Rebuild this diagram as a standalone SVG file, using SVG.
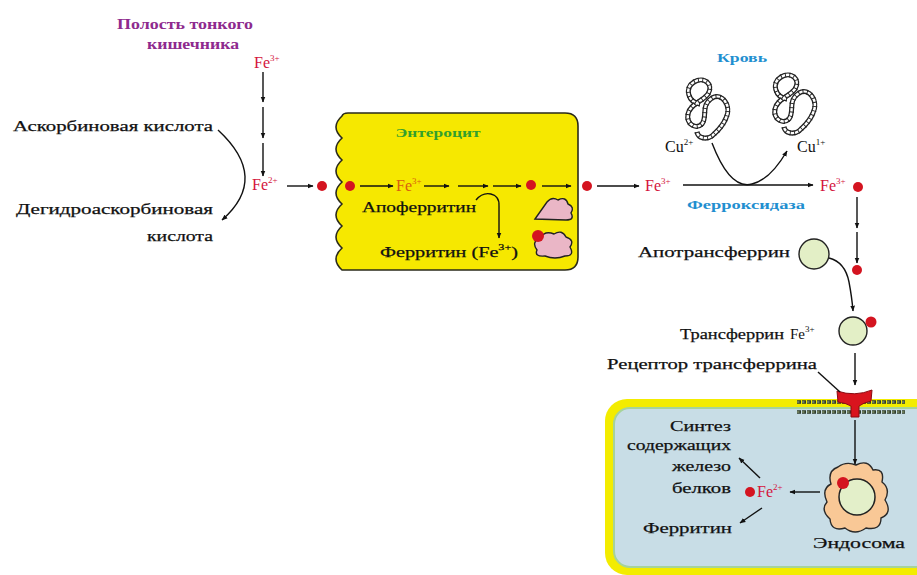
<svg xmlns="http://www.w3.org/2000/svg" width="917" height="575" viewBox="0 0 917 575">
  <style>
    text { font-family: "Liberation Serif", "Times New Roman", serif; }
    .lbl { font-size: 15px; fill: #111; stroke: #111; stroke-width: 0.25; }
    .fe { font-size: 16px; fill: #d4143c; }
    .sup { font-size: 9px; }
    .ln { fill: none; stroke: #111; stroke-width: 1.4; }
    .arr { fill: none; stroke: #111; stroke-width: 1.4; marker-end: url(#ah); }
    .dot { fill: #d41420; }
  </style>
  <defs>
    <marker id="ah" viewBox="0 0 10 10" refX="9" refY="5" markerWidth="6" markerHeight="6" orient="auto" markerUnits="userSpaceOnUse">
      <path d="M0,1 L10,5 L0,9 Z" fill="#111"/>
    </marker>
    <!-- polypeptide chain drawn as a beaded coil -->
    <path id="coilPath" d="M 700,104 C 688,102 684,88 694,82 C 704,76 714,84 708,94 C 702,102 690,104 688,114 C 686,124 696,130 702,124 C 708,116 700,106 712,98 C 722,92 732,106 726,118 C 722,128 716,132 712,136 C 706,140 698,138 697,132"/>
    <g id="coil" fill="none" stroke-linecap="butt">
      <use href="#coilPath" stroke="#222" stroke-width="5"/>
      <use href="#coilPath" stroke="#fff" stroke-width="2.4"/>
      <use href="#coilPath" stroke="#222" stroke-width="5" stroke-dasharray="0.9 3.4"/>
    </g>
  </defs>

  <rect width="917" height="575" fill="#fff"/>

  <!-- Intestinal lumen -->
  <g id="lumen">
    <text x="185" y="29" text-anchor="middle" font-size="14" font-weight="bold" fill="#8e2a8e" textLength="136" lengthAdjust="spacingAndGlyphs">Полость тонкого</text>
    <text x="193" y="49" text-anchor="middle" font-size="14" font-weight="bold" fill="#8e2a8e" textLength="92" lengthAdjust="spacingAndGlyphs">кишечника</text>
    <text x="254" y="68" class="fe">Fe<tspan class="sup" dy="-7">3+</tspan></text>
  </g>

  <g id="fe2-lumen">
    <text x="252" y="190" class="fe">Fe<tspan class="sup" dy="-7">2+</tspan></text>
  </g>

  <g id="ascorbate">
    <text x="13" y="131" class="lbl" textLength="200" lengthAdjust="spacingAndGlyphs">Аскорбиновая кислота</text>
    <text x="16" y="214" class="lbl" textLength="197" lengthAdjust="spacingAndGlyphs">Дегидроаскорбиновая</text>
    <text x="213" y="241" class="lbl" text-anchor="end" textLength="66" lengthAdjust="spacingAndGlyphs">кислота</text>
  </g>

  <!-- Enterocyte -->
  <g id="enterocyte">
    <path d="M 348,113 H 565 Q 578,113 578,126 V 257 Q 578,270 565,270 H 342
             Q 330,259 342,248 Q 330,237 342,226 Q 330,215 342,204 Q 330,193 342,182
             Q 330,171 342,160 Q 330,149 342,138 Q 330,127 342,116 Q 343,113 348,113 Z"
          fill="#f6e800" stroke="#2a2a1a" stroke-width="1.6"/>
    <text x="438" y="137" text-anchor="middle" font-size="13" font-weight="bold" fill="#33a02c" textLength="85" lengthAdjust="spacingAndGlyphs">Энтероцит</text>
    <text x="396" y="191" font-size="16" fill="#d95f0e">Fe<tspan class="sup" dy="-7">3+</tspan></text>
    <text x="362" y="212" class="lbl" textLength="114" lengthAdjust="spacingAndGlyphs">Апоферритин</text>
    <text x="380" y="257" class="lbl" textLength="138" lengthAdjust="spacingAndGlyphs">Ферритин (Fe<tspan class="sup" dy="-7">3+</tspan><tspan dy="7">)</tspan></text>
    <path d="M 535,219 L 547,202 Q 552,196 558,200 Q 566,196 568,204 Q 575,207 571,213 Q 575,220 566,220 Z" fill="#eab6c6" stroke="#222" stroke-width="1.4"/>
    <path d="M 537,250 Q 531,242 540,238 Q 545,230 554,234 Q 562,229 566,237 Q 575,240 570,247 Q 575,256 565,256 Q 555,260 545,256 Q 534,257 537,250 Z" fill="#eab6c6" stroke="#222" stroke-width="1.4"/>
    <circle class="dot" cx="538" cy="236" r="6"/>
  </g>

  <!-- Blood -->
  <g id="blood">
    <text x="742" y="62" text-anchor="middle" font-size="13" font-weight="bold" fill="#1f8fd0" textLength="50" lengthAdjust="spacingAndGlyphs">Кровь</text>
    <use href="#coil"/>
    <use href="#coil" transform="translate(87,-5)"/>
    <text x="665" y="152" font-size="16" fill="#111">Cu<tspan class="sup" dy="-7">2+</tspan></text>
    <text x="797" y="152" font-size="16" fill="#111">Cu<tspan class="sup" dy="-7">1+</tspan></text>
    <text x="645" y="191" class="fe">Fe<tspan class="sup" dy="-7">3+</tspan></text>
    <text x="820" y="191" class="fe">Fe<tspan class="sup" dy="-7">3+</tspan></text>
    <text x="746" y="209" text-anchor="middle" font-size="13" font-weight="bold" fill="#1f8fd0" textLength="118" lengthAdjust="spacingAndGlyphs">Ферроксидаза</text>
  </g>

  <g id="apotransferrin">
    <text x="638" y="257" class="lbl" textLength="152" lengthAdjust="spacingAndGlyphs">Апотрансферрин</text>
    <circle cx="814" cy="254" r="15" fill="#e3efc6" stroke="#222" stroke-width="1.4"/>
  </g>

  <g id="transferrin">
    <text x="680" y="339" class="lbl" textLength="104" lengthAdjust="spacingAndGlyphs">Трансферрин</text>
    <text x="790" y="339" font-size="15" fill="#111">Fe<tspan class="sup" dy="-7">3+</tspan></text>
    <circle cx="853" cy="331" r="14" fill="#e3efc6" stroke="#222" stroke-width="1.4"/>
    <circle class="dot" cx="871" cy="322" r="5.5"/>
  </g>

  <g id="receptor-label">
    <text x="607" y="369" class="lbl" textLength="210" lengthAdjust="spacingAndGlyphs">Рецептор трансферрина</text>
  </g>

  <!-- Target cell -->
  <g id="cell">
    <rect x="605" y="399" width="340" height="176" rx="22" fill="#f3ec00"/>
    <rect x="614" y="408" width="320" height="159" rx="16" fill="#c8dde6" stroke="#a6d39a" stroke-width="2"/>
    <!-- lipid bilayer -->
    <line x1="797" y1="402" x2="905" y2="402" stroke="#2d3a2a" stroke-width="3.4" stroke-dasharray="4 1"/>
    <line x1="797" y1="402" x2="905" y2="402" stroke="#a9b98a" stroke-width="1.1" stroke-dasharray="2.5 2.5"/>
    <line x1="797" y1="412" x2="905" y2="412" stroke="#2d3a2a" stroke-width="3.4" stroke-dasharray="4 1"/>
    <line x1="797" y1="412" x2="905" y2="412" stroke="#a9b98a" stroke-width="1.1" stroke-dasharray="2.5 2.5"/>
    <text x="731" y="431" class="lbl" text-anchor="end" textLength="61" lengthAdjust="spacingAndGlyphs">Синтез</text>
    <text x="731" y="450" class="lbl" text-anchor="end" textLength="104" lengthAdjust="spacingAndGlyphs">содержащих</text>
    <text x="731" y="471" class="lbl" text-anchor="end" textLength="59" lengthAdjust="spacingAndGlyphs">железо</text>
    <text x="731" y="493" class="lbl" text-anchor="end" textLength="59" lengthAdjust="spacingAndGlyphs">белков</text>
    <text x="643" y="533" class="lbl" textLength="89" lengthAdjust="spacingAndGlyphs">Ферритин</text>
  </g>

  <g id="receptor">
    <path d="M 837,391 Q 855,397 872,390 L 871,401 Q 863,403 859,406 L 859,417 L 851,417 L 851,406 Q 846,403 838,402 Z" fill="#d9141e" stroke="#8a0a10" stroke-width="1"/>
  </g>

  <g id="fe2-cell">
    <circle class="dot" cx="750" cy="492" r="5"/>
    <text x="757" y="497" class="fe">Fe<tspan class="sup" dy="-7">2+</tspan></text>
  </g>

  <g id="endosome">
    <path d="M 838,467 Q 846,461 856,465 Q 868,459 873,470 Q 885,468 882,482 Q 891,489 885,500 Q 893,513 881,518 Q 881,531 866,528 Q 855,536 845,528 Q 831,532 830,519 Q 820,510 827,502 Q 821,489 831,484 Q 827,471 838,467 Z" fill="#f9c896" stroke="#2a2a2a" stroke-width="1.4"/>
    <circle cx="857" cy="497" r="18" fill="#e3efc9" stroke="#222" stroke-width="1.5"/>
    <circle class="dot" cx="843" cy="483" r="6"/>
    <text x="813" y="548" class="lbl" textLength="92" lengthAdjust="spacingAndGlyphs">Эндосома</text>
  </g>

  <!-- Iron carriers shown as dots along the route -->
  <g id="iron-dots">
    <circle class="dot" cx="322" cy="186" r="5"/>
    <circle class="dot" cx="350" cy="186" r="5"/>
    <circle class="dot" cx="531" cy="185" r="5"/>
    <circle class="dot" cx="587" cy="186" r="5"/>
    <circle class="dot" cx="858" cy="187" r="5"/>
    <circle class="dot" cx="857" cy="270" r="5"/>
  </g>

  <g id="connectors">
    <!-- lumen: Fe3+ reduced to Fe2+ -->
    <line class="arr" x1="263" y1="72" x2="263" y2="102"/>
    <line class="arr" x1="263" y1="107" x2="263" y2="138"/>
    <line class="arr" x1="263" y1="143" x2="263" y2="176"/>
    <path class="arr" d="M 218,130 Q 270,178 222,220"/>
    <line class="arr" x1="287" y1="186" x2="313" y2="186"/>
    <!-- through the enterocyte -->
    <line class="arr" x1="360" y1="186" x2="393" y2="186"/>
    <line class="arr" x1="424" y1="186" x2="449" y2="186"/>
    <line class="arr" x1="458" y1="186" x2="488" y2="186"/>
    <line class="arr" x1="493" y1="186" x2="521" y2="186"/>
    <line class="arr" x1="542" y1="186" x2="571" y2="186"/>
    <path class="arr" d="M 476,200 C 484,190 500,192 499,206 L 499,238"/>
    <!-- blood -->
    <line class="arr" x1="597" y1="186" x2="639" y2="186"/>
    <line class="arr" x1="683" y1="185" x2="813" y2="185"/>
    <path class="arr" d="M 712,143 Q 730,190 752,184 Q 770,180 787,151"/>
    <line class="arr" x1="857" y1="197" x2="857" y2="228"/>
    <line class="arr" x1="857" y1="232" x2="857" y2="263"/>
    <path class="arr" d="M 829,258 Q 845,262 849,282 Q 852,298 853,311"/>
    <line class="arr" x1="855" y1="353" x2="855" y2="385"/>
    <line class="ln" x1="818" y1="372" x2="840" y2="392"/>
    <!-- inside the cell -->
    <line class="arr" x1="855" y1="420" x2="855" y2="464"/>
    <line class="arr" x1="820" y1="492" x2="790" y2="492"/>
    <line class="arr" x1="760" y1="478" x2="739" y2="458"/>
    <line class="arr" x1="762" y1="508" x2="740" y2="523"/>
  </g>
</svg>
